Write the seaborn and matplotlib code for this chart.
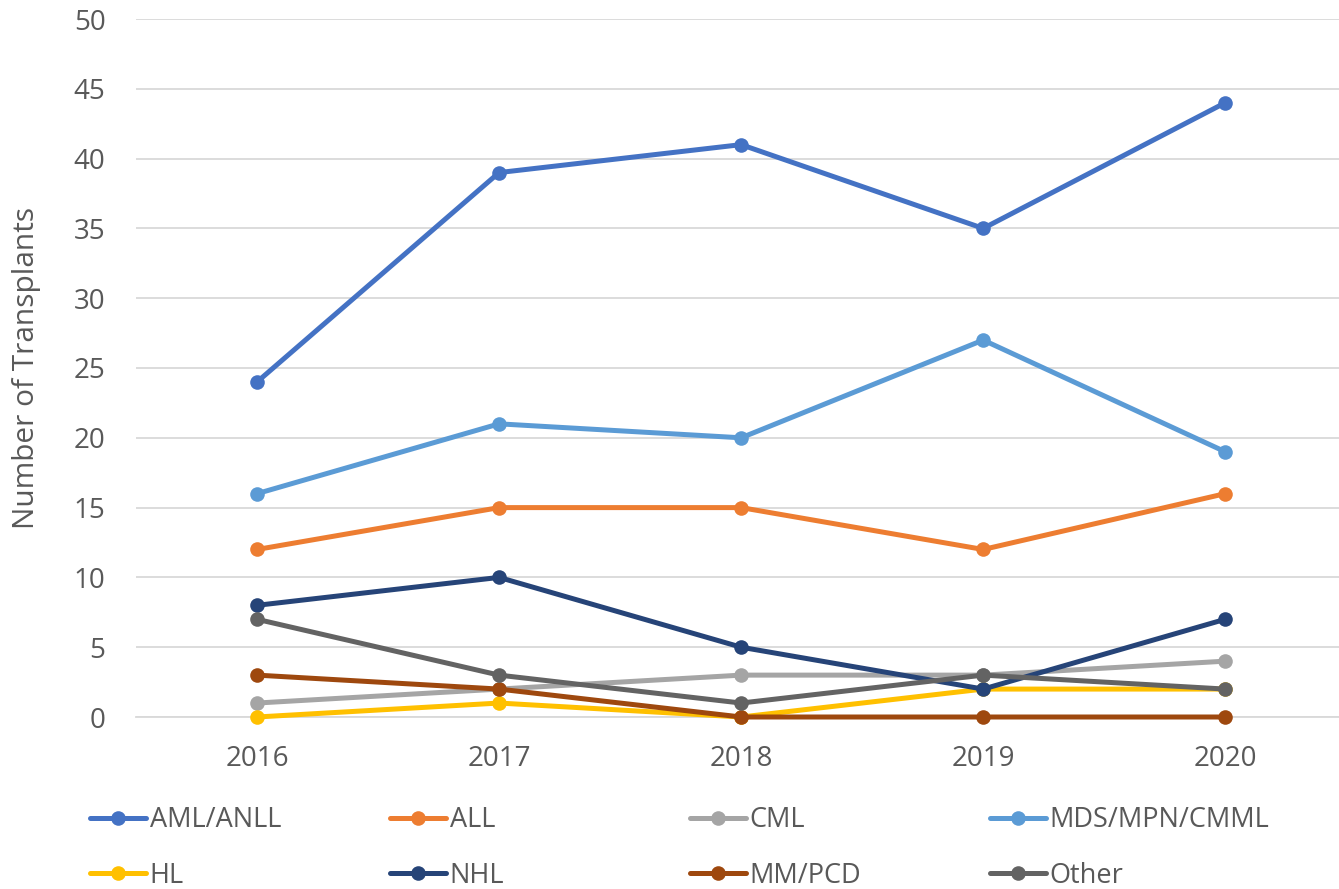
import matplotlib
matplotlib.use("Agg")
import matplotlib.pyplot as plt
import seaborn as sns
import pandas as pd

years = ["2016", "2017", "2018", "2019", "2020"]
aml = [24, 39, 41, 35, 44]
all_ = [12, 15, 15, 12, 16]
cml = [1, 2, 3, 3, 4]
mds = [16, 21, 20, 27, 19]
hl = [0, 1, 0, 2, 2]
nhl = [8, 10, 5, 2, 7]
mm = [3, 2, 0, 0, 0]
other = [7, 3, 1, 3, 2]

series = {"AML/ANLL": aml, "ALL": all_, "CML": cml, "MDS/MPN/CMML": mds,
          "HL": hl, "NHL": nhl, "MM/PCD": mm, "Other": other}
colors = {"AML/ANLL": "#4472C4", "ALL": "#ED7D31", "CML": "#A5A5A5",
          "MDS/MPN/CMML": "#5B9BD5", "HL": "#FFC000", "NHL": "#264478",
          "MM/PCD": "#9E480E", "Other": "#636363"}

rows = []
for name, vals in series.items():
    for i, (y, v) in enumerate(zip(years, vals)):
        rows.append({"idx": i, "year": y, "value": v, "series": name})
df = pd.DataFrame(rows)

sns.set_theme(style="white")
plt.rcParams['font.family'] = ['Open Sans', 'DejaVu Sans']
txt = "#595959"

W, H = 1339, 889
fig = plt.figure(figsize=(W / 100, H / 100), dpi=100)
ax = fig.add_axes([136 / W, (H - 717) / H, 1 - 136 / W, (717 - 19) / H])

sns.lineplot(data=df, x="idx", y="value", hue="series", palette=colors,
             hue_order=list(series.keys()), marker="o", markersize=10.5,
             markeredgewidth=0, linewidth=3.6, ax=ax, legend=False)

ax.set_xlim(-0.5, 4.47)
ax.set_ylim(0, 50)
ax.set_yticks(range(0, 51, 5))
ax.set_xticks(range(len(years)))
ax.set_xticklabels(years)
ax.yaxis.grid(True, color="#D9D9D9", linewidth=1.3)
ax.xaxis.grid(False)
for s in ["top", "right", "left"]:
    ax.spines[s].set_visible(False)
ax.spines["bottom"].set_color("#D9D9D9")
ax.spines["bottom"].set_linewidth(1.3)
ax.spines["bottom"].set_zorder(0.5)
ax.tick_params(axis="both", colors=txt, labelsize=20, length=0)
ax.tick_params(axis="y", pad=22)
ax.tick_params(axis="x", pad=20)
ax.set_xlabel("")
ax.set_ylabel("Number of Transplants", fontsize=21.5, color=txt)
ax.yaxis.set_label_coords((41 - 136) / (W - 136), 0.5)
for l in ax.lines:
    l.set_clip_on(False)
    l.set_zorder(3)

handles = ax.get_lines()[:len(series)]
names = list(series.keys())
col_x = [90, 390, 690, 990]
for c in range(4):
    hs = [handles[c], handles[c + 4]]
    ls = [names[c], names[c + 4]]
    fig.legend(hs, ls, loc="center left",
               bbox_to_anchor=(col_x[c] / W, 1 - 848 / H),
               frameon=False, fontsize=19.5, handlelength=2.05,
               handletextpad=0.15, labelspacing=1.0, labelcolor=txt,
               borderaxespad=0, borderpad=0)
fig.savefig("out.png", dpi=100)
